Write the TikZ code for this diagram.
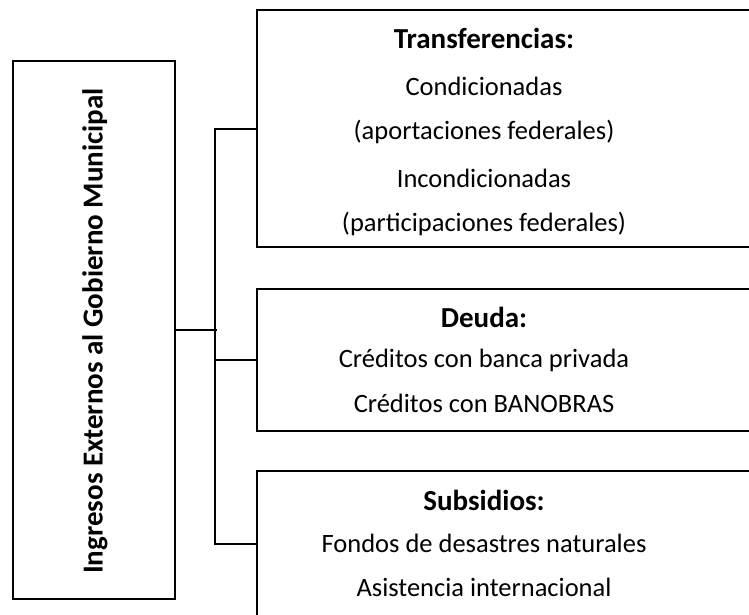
\documentclass[tikz,border=0pt]{standalone}
\usepackage{fontspec}
\setmainfont{Carlito}
\usetikzlibrary{positioning}

\begin{document}
\begin{tikzpicture}[
        x=1pt, y=-1pt,
        box/.style={draw, line width=2pt, inner sep=0pt},
        head/.style={font=\fontsize{29}{34}\selectfont\bfseries},
        item/.style={font=\fontsize{26.5}{30}\selectfont},
        link/.style={line width=2pt},
    ]
    \useasboundingbox (0,0) rectangle (749,614);
    \clip (0,0) rectangle (749,614);

        % Left box
        \node[box, minimum width=162pt, minimum height=538pt] (ingresos) at (94,330) {};
        \node[rotate=90, font=\fontsize{29}{34}\selectfont\bfseries] (ingresos-txt) at (95,331) {Ingresos Externos al Gobierno Municipal};

        % Right boxes (open to the right)
        \node[box, minimum width=543pt, minimum height=237pt] (trans) at (528.5,128.5) {};
        \node[box, minimum width=543pt, minimum height=142pt] (deuda) at (528.5,360) {};
        \node[box, minimum width=543pt, minimum height=146pt] (subs) at (528.5,544) {};

        % Transferencias
        \node[head] (trans-0) at (484,38) {Transferencias:};
        \foreach \txt [count=\i] in {Condicionadas, {(aportaciones federales)}, Incondicionadas, {(participaciones federales)}}
            \node[item] (trans-\i) at (484,40+46*\i) {\txt};

        % Deuda
        \node[head] (deuda-0) at (484,317) {Deuda:};
        \foreach \txt [count=\i] in {Créditos con banca privada, Créditos con BANOBRAS}
            \node[item] (deuda-\i) at (484,317+43*\i) {\txt};

        % Subsidios
        \node[head] (subs-0) at (484,500) {Subsidios:};
        \foreach \txt [count=\i] in {Fondos de desastres naturales, Asistencia internacional}
            \node[item] (subs-\i) at (484,500+43.5*\i) {\txt};

        % Connect the left box with the three boxes
        \draw[link] (ingresos.east) -- ++(41,0);
        \draw[link] (trans.west) -- ++(-41,0) |- (subs.west);
        \draw[link] (deuda.west) -- ++(-41,0);
\end{tikzpicture}
\end{document}
